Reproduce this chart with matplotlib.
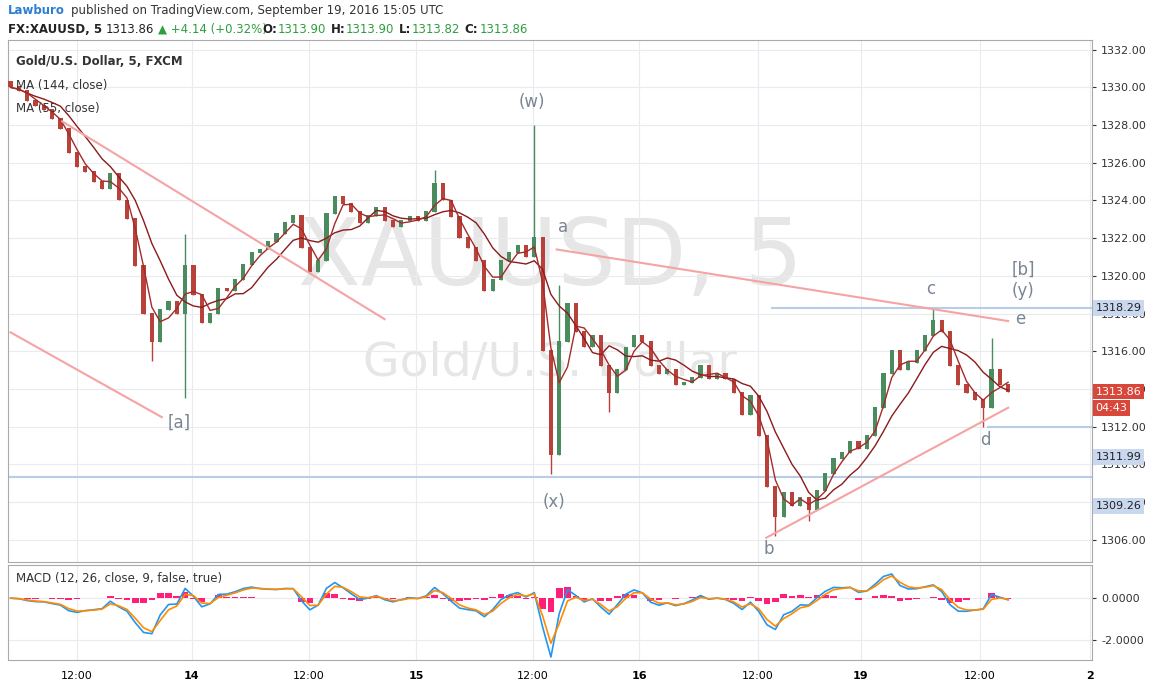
import matplotlib
matplotlib.use("Agg")
import matplotlib.pyplot as plt
import numpy as np
import pandas as pd

closes = [1330.0,1329.8,1329.3,1329.0,1328.8,1328.3,1327.8,1326.5,1325.8,1325.5,
1325.0,1324.6,1325.4,1324.0,1323.0,1320.5,1318.0,1316.5,1318.2,1318.6,
1318.0,1320.5,1319.0,1317.5,1318.0,1319.3,1319.2,1319.8,1320.6,1321.2,
1321.4,1321.8,1322.2,1322.8,1323.2,1321.5,1320.2,1320.8,1323.3,1324.2,
1323.8,1323.4,1322.8,1323.2,1323.6,1322.9,1322.6,1322.9,1323.1,1322.9,
1323.4,1324.9,1324.0,1323.1,1322.0,1321.5,1320.8,1319.2,1319.8,1320.8,
1321.2,1321.6,1321.0,1322.0,1316.0,1310.5,1316.5,1318.5,1317.0,1316.2,
1316.8,1315.2,1313.8,1315.0,1316.2,1316.8,1316.5,1315.2,1314.8,1315.0,
1314.2,1314.3,1314.6,1315.2,1314.5,1314.8,1314.5,1313.8,1312.6,1313.6,
1311.5,1308.8,1307.2,1308.5,1307.8,1308.2,1307.6,1308.6,1309.5,1310.3,
1310.6,1311.2,1310.8,1311.5,1313.0,1314.8,1316.0,1315.0,1315.4,1316.0,
1316.8,1317.6,1317.0,1315.2,1314.2,1313.8,1313.4,1313.0,1315.0,1314.2,1313.86]
first_open = 1330.3
wick_highs = {8: 1326.3, 17: 1317.0, 21: 1322.2, 51: 1325.6, 63: 1328.0, 66: 1319.5, 111: 1318.3, 118: 1316.7}
wick_lows = {17: 1315.5, 21: 1313.5, 65: 1309.5, 72: 1312.8, 92: 1306.2, 96: 1307.0, 117: 1312.0}

tick_pos = [8.0, 21.8, 35.9, 48.8, 62.8, 75.6, 89.9, 102.3, 116.6, 129.8]
tick_lab = ["12:00", "14", "12:00", "15", "12:00", "16", "12:00", "19", "12:00", "2"]
price_ticks = list(range(1306, 1333, 2))

trendlines = [((0, 1317.0), (18.2, 1312.5)), ((6.2, 1328.2), (45, 1317.7)),
              ((65.7, 1321.4), (120, 1317.6)), ((90.9, 1306.1), (120, 1313.0))]
labels = [("(w)", 62.7, 1329.2), ("a", 66.5, 1322.6), ("[a]", 20.3, 1312.2), ("(x)", 65.4, 1308.0),
          ("b", 91.2, 1305.5), ("c", 110.7, 1319.3), ("e", 121.5, 1317.7), ("d", 117.3, 1311.3),
          ("[b]", 121.8, 1320.3), ("(y)", 121.8, 1319.2)]

c = np.array(closes)
o = np.concatenate([[first_open], c[:-1]])
hi = np.maximum(o, c); lo = np.minimum(o, c)
for k, v in wick_highs.items(): hi[k] = v
for k, v in wick_lows.items(): lo[k] = v
x = np.arange(len(c))
s = pd.Series(c)
ma1 = s.rolling(7, min_periods=1).mean()
ma2 = s.rolling(3, min_periods=1).mean()
macd = s.ewm(span=2).mean() - s.ewm(span=4).mean()
sig = macd.ewm(span=2).mean()
hist = macd - sig

fig = plt.figure(figsize=(11.52, 6.85), dpi=100)
fig.patch.set_facecolor("white")
ax = fig.add_axes([0.007, 0.180, 0.941, 0.762])
ax2 = fig.add_axes([0.007, 0.036, 0.941, 0.139], sharex=ax)
grid_c = "#e8ecf0"
for a in (ax, ax2):
    a.set_xlim(-0.3, 130.1)
    a.grid(True, color=grid_c, lw=0.8)
    a.set_axisbelow(True)
    a.yaxis.tick_right()
    for sp in a.spines.values(): sp.set_color("#aaaaaa")
    a.tick_params(axis="y", labelsize=8, colors="#333333", length=3)
ax.set_ylim(1304.83, 1332.53)
ax.set_yticks(price_ticks)
ax.set_yticklabels([f"{p:.2f}" for p in price_ticks])
ax.set_xticks(tick_pos)
ax.tick_params(axis="x", labelbottom=False, length=0)
ax2.set_xticks(tick_pos)
ax2.set_xticklabels(tick_lab, fontsize=8)
for lbl in ax2.get_xticklabels():
    if lbl.get_text() in ("14", "15", "16", "19", "2"):
        lbl.set_fontweight("bold")
ax2.tick_params(axis="x", length=0, pad=8)

ax.text(0.5, 0.58, "XAUUSD, 5", transform=ax.transAxes, ha="center", va="center", fontsize=66, color="#e6e6e6", zorder=0)
ax.text(0.5, 0.38, "Gold/U.S. Dollar", transform=ax.transAxes, ha="center", va="center", fontsize=34, color="#e6e6e6", zorder=0)

up = c >= o
cols = np.where(up, "#4b8c5e", "#b8413a")
ax.vlines(x, lo, hi, colors=cols, lw=1, zorder=2)
ax.bar(x, np.abs(c - o) + 0.05, bottom=np.minimum(o, c), width=0.5, color=cols, zorder=3)
ax.plot(x, ma1, color="#8b1a1a", lw=1, zorder=4)
ax.plot(x, ma2, color="#a52a2a", lw=1, zorder=4)

for (x0, y0), (x1, y1) in trendlines:
    ax.plot([x0, x1], [y0, y1], color="#f5a3a3", lw=1.5, zorder=5)
ax.hlines(1318.29, 91.5, 130.1, color="#b8cde8", lw=1.5)
ax.hlines(1312.0, 117.5, 130.1, color="#b8cde8", lw=1.5)
ax.axhline(1309.3, color="#b8cde8", lw=1.5)
for t, xx, yy in labels:
    ax.text(xx, yy, t, fontsize=12, color="#7a8593", ha="center", va="center", zorder=6)

def tag(y, text, fc, tc):
    ax.text(1.003, y, text, transform=ax.get_yaxis_transform(), fontsize=8, color=tc, va="center", ha="left",
            bbox=dict(boxstyle="square,pad=0.25", fc=fc, ec="none"), zorder=10, clip_on=False)
tag(1318.29, "1318.29", "#c9d8ee", "#222222")
tag(1313.86, "1313.86", "#d9473a", "white")
tag(1313.0, "04:43", "#d9473a", "white")
tag(1310.4, "1311.99", "#c9d8ee", "#222222")
tag(1307.8, "1309.26", "#c9d8ee", "#222222")

ax.text(0.007, 0.97, "Gold/U.S. Dollar, 5, FXCM", transform=ax.transAxes, fontsize=8.5, fontweight="bold", color="#333333", va="top")
ax.text(0.007, 0.925, "MA (144, close)", transform=ax.transAxes, fontsize=8.5, color="#333333", va="top")
ax.text(0.007, 0.88, "MA (55, close)", transform=ax.transAxes, fontsize=8.5, color="#333333", va="top")

ax2.bar(x, hist, width=0.8, color="#ff1f78", zorder=2)
ax2.plot(x, macd, color="#2196f3", lw=1.2, zorder=3)
ax2.plot(x, sig, color="#ff8c00", lw=1.2, zorder=3)
ax2.set_ylim(-2.95, 1.57)
ax2.set_yticks([-2, 0])
ax2.set_yticklabels(["-2.0000", "0.0000"])
ax2.text(0.007, 0.93, "MACD (12, 26, close, 9, false, true)", transform=ax2.transAxes, fontsize=8.5, color="#333333", va="top")

fig.text(0.007, 0.985, "Lawburo", fontsize=8.5, fontweight="bold", color="#2a7fd4", va="center")
fig.text(0.062, 0.985, "published on TradingView.com, September 19, 2016 15:05 UTC", fontsize=8.5, color="#333333", va="center")
fig.text(0.007, 0.957, "FX:XAUUSD, 5", fontsize=8.5, fontweight="bold", color="#222222", va="center")
fig.text(0.092, 0.957, "1313.86", fontsize=8.5, color="#222222", va="center")
fig.text(0.137, 0.957, "▲ +4.14 (+0.32%)", fontsize=8.5, color="#2e9e3e", va="center")
fig.text(0.228, 0.957, "O:", fontsize=8.5, fontweight="bold", color="#222222", va="center")
fig.text(0.241, 0.957, "1313.90", fontsize=8.5, color="#2e9e3e", va="center")
fig.text(0.287, 0.957, "H:", fontsize=8.5, fontweight="bold", color="#222222", va="center")
fig.text(0.300, 0.957, "1313.90", fontsize=8.5, color="#2e9e3e", va="center")
fig.text(0.346, 0.957, "L:", fontsize=8.5, fontweight="bold", color="#222222", va="center")
fig.text(0.357, 0.957, "1313.82", fontsize=8.5, color="#2e9e3e", va="center")
fig.text(0.403, 0.957, "C:", fontsize=8.5, fontweight="bold", color="#222222", va="center")
fig.text(0.416, 0.957, "1313.86", fontsize=8.5, color="#2e9e3e", va="center")

fig.savefig("out.png", dpi=100)
